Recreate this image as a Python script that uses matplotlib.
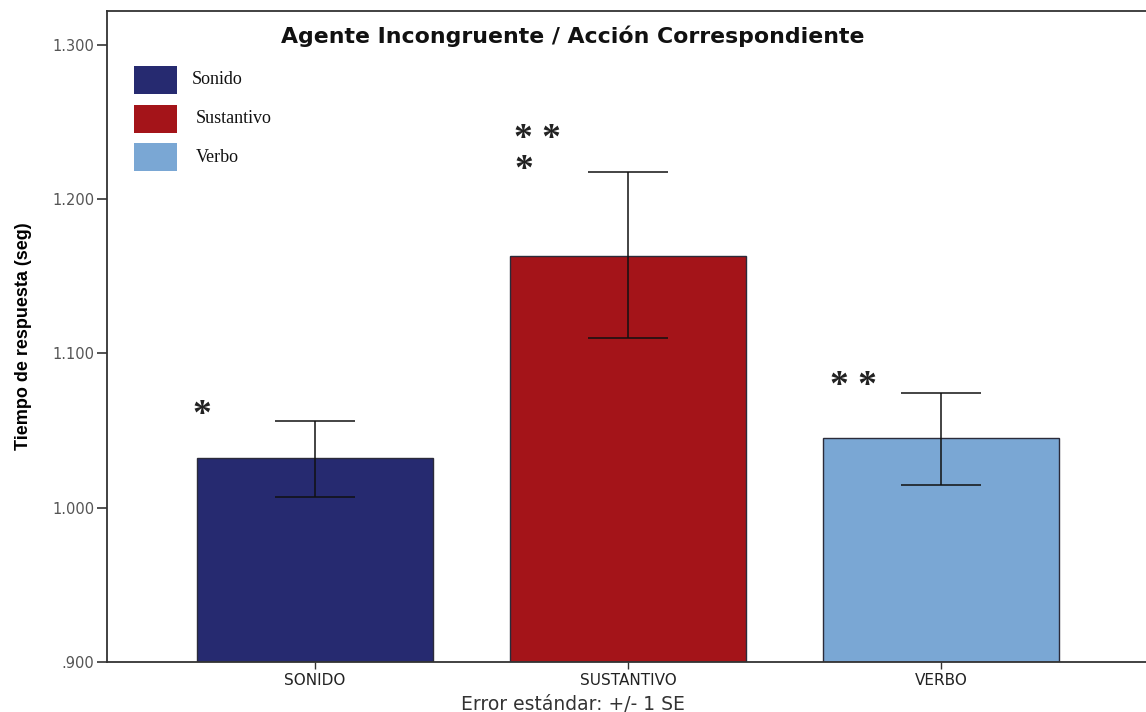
import matplotlib.pyplot as plt
from matplotlib.patches import Rectangle
from matplotlib.ticker import FuncFormatter
import numpy as np

# mean response time per condition, with +/- 1 SE
categories = ['SONIDO', 'SUSTANTIVO', 'VERBO']
legend_labels = ['Sonido', 'Sustantivo', 'Verbo']
means = [1.032, 1.1635, 1.045]
err_low = [1.007, 1.110, 1.015]
err_high = [1.0565, 1.2175, 1.0745]
stars = ['*', '* *\n*', '* *']
colors = ['#262a70', '#a41419', '#7aa7d4']

y_ticks = [0.9, 1.0, 1.1, 1.2, 1.3]


def tick_fmt(v, pos):
    s = '{:.3f}'.format(v)
    if s.startswith('0'):
        s = s[1:]
    return s


fig = plt.figure(figsize=(11.46, 7.12), dpi=100)
ax = fig.add_axes([107 / 1146, 50 / 712, 1 - 107 / 1146, (662 - 11) / 712])

x = np.arange(len(categories))
means = np.array(means)
yerr = [means - np.array(err_low), np.array(err_high) - means]

ax.bar(x, means - 0.9, bottom=0.9, width=0.755, color=colors,
       edgecolor='#2b2b3a', linewidth=1.0, zorder=2)
ax.errorbar(x, means, yerr=yerr, fmt='none', ecolor='#111111',
            elinewidth=1.1, capsize=28.5, capthick=1.1, zorder=3)

# significance stars
star_pos = [(-0.362, 1.0596), (-0.288, 1.2286), (-0.28, 1.0786)]
for (dx, sy), s, xi in zip(star_pos, stars, x):
    ax.text(xi + dx, sy, s, ha='center', va='center', multialignment='left',
            fontsize=27, fontweight='bold', family='Liberation Serif',
            linespacing=0.84, color='#222222')

ax.set_xlim(-0.665, 2.655)
ax.set_ylim(0.9, 1.322)
ax.set_yticks(y_ticks)
ax.yaxis.set_major_formatter(FuncFormatter(tick_fmt))
ax.set_xticks(x)
ax.set_xticklabels(categories)

ax.spines['right'].set_visible(False)
for side in ['left', 'bottom', 'top']:
    ax.spines[side].set_linewidth(1.3)
    ax.spines[side].set_color('#333333')

ax.tick_params(axis='y', direction='out', length=7, width=1.2,
               labelsize=10.5, pad=2, colors='#333333')
ax.tick_params(axis='y', labelcolor='#555555')
ax.tick_params(axis='x', direction='out', length=5, width=1.0,
               labelsize=11, pad=3, colors='#333333')
ax.tick_params(axis='x', labelcolor='#222222')
for lbl in ax.get_xticklabels() + ax.get_yticklabels():
    lbl.set_family('DejaVu Sans')

ax.set_xlabel('Error estándar: +/- 1 SE', fontsize=13.5, family='DejaVu Sans',
              color='#333333')
# footnote sits under the figure centre rather than the axes centre
ax.xaxis.set_label_coords((573 - 107) / 1039, -0.051)
ax.set_ylabel('Tiempo de respuesta (seg)', fontsize=13, fontweight='bold',
              family='Liberation Sans', labelpad=15)

fig.text(573 / 1146, 1 - 36 / 712, 'Agente Incongruente / Acción Correspondiente',
         ha='center', va='center', fontsize=15.8, fontweight='bold',
         family='DejaVu Sans', color='#111111')

# legend boxes, drawn in figure pixels
W, H = 1146, 712
for i, (lab, c) in enumerate(zip(legend_labels, colors)):
    top = 66 + i * 38.5
    fig.patches.append(Rectangle((134 / W, 1 - (top + 28) / H), 43 / W, 28 / H,
                                 transform=fig.transFigure, facecolor=c,
                                 edgecolor='none'))
    fig.text((192 if i == 0 else 196) / W, 1 - (top + 14) / H, lab,
             ha='left', va='center', fontsize=13, family='Liberation Serif',
             color='#111111')

fig.savefig('out.png', dpi=100, facecolor='white')
